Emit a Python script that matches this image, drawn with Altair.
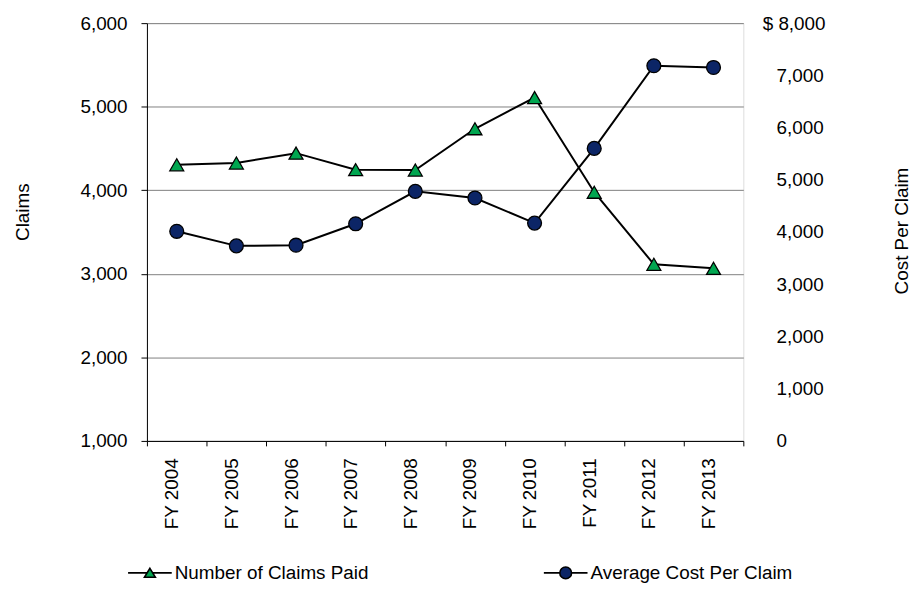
import altair as alt
import pandas as pd

years = ["FY 2004", "FY 2005", "FY 2006", "FY 2007", "FY 2008",
         "FY 2009", "FY 2010", "FY 2011", "FY 2012", "FY 2013"]
claims_paid = [4305, 4326, 4444, 4246, 4242, 4736, 5109, 3976, 3114, 3066]
avg_cost = [4014, 3735, 3748, 4158, 4779, 4652, 4171, 5601, 7184, 7151]
series_names = ["Number of Claims Paid", "Average Cost Per Claim"]
series_fills = ["#00A650", "#0C2566"]
left_ticks = [1000, 2000, 3000, 4000, 5000, 6000]
right_ticks = [0, 1000, 2000, 3000, 4000, 5000, 6000, 7000, 8000]

FONT = "Liberation Sans"
FS = 19

df = pd.DataFrame({"year": years, "claims": claims_paid, "cost": avg_cost})
legend_df = pd.DataFrame({"series": series_names})

x_enc = alt.X(
    "year:N", sort=years, title=None,
    scale=alt.Scale(type="band", paddingInner=0, paddingOuter=0),
    axis=alt.Axis(labelAngle=270, labelAlign="right", labelBaseline="middle",
                  labelOffset=-5, tickBand="extent", tickSize=5, tickColor="black",
                  domainColor="black", labelPadding=12, grid=False,
                  labelFont=FONT, labelFontSize=FS, labelColor="black"),
)

base = alt.Chart(df).encode(x=x_enc)

y_left = alt.Y(
    "claims:Q", title="Claims",
    scale=alt.Scale(domain=[1000, 6000], nice=False, zero=False),
    axis=alt.Axis(values=left_ticks, labelExpr="format(datum.value, ',')",
                  grid=True, gridColor="#808080",
                  gridWidth=1, tickSize=6, tickColor="black", domainColor="black",
                  labelPadding=14, labelFont=FONT, labelFontSize=FS, labelColor="black",
                  titleFont=FONT, titleFontSize=FS, titleFontWeight="normal",
                  titleColor="black", titleAngle=270, titleX=-125, titleY=190,
                  titleAlign="center", titleBaseline="middle"),
)

y_right = alt.Y(
    "cost:Q", title="Cost Per Claim",
    scale=alt.Scale(domain=[0, 8000], nice=False),
    axis=alt.Axis(orient="right", values=right_ticks, grid=False, ticks=False,
                  tickSize=0, domain=False,
                  labelExpr="datum.value == 8000 ? '$ 8,000' : format(datum.value, ',')",
                  labelAlign="left",
                  labelPadding={"condition": {"test": "datum.value == 8000", "value": 19},
                                "value": 33},
                  labelFont=FONT, labelFontSize=FS, labelColor="black",
                  titleFont=FONT, titleFontSize=FS, titleFontWeight="normal",
                  titleColor="black", titleAngle=270, titleX=159, titleY=209,
                  titleAlign="center", titleBaseline="middle"),
)

claims_line = base.mark_line(color="black", strokeWidth=2).encode(y=y_left)
claims_pts = base.mark_point(shape="triangle-up", filled=True, fill=series_fills[0],
                             stroke="black", strokeWidth=1.3, size=196,
                             opacity=1).encode(y=y_left)
left_layer = alt.layer(claims_line, claims_pts)

cost_line = base.mark_line(color="black", strokeWidth=2).encode(y=y_right)
cost_pts = base.mark_point(shape="circle", filled=True, fill=series_fills[1],
                           stroke="black", strokeWidth=1.3, size=196,
                           opacity=1).encode(y=y_right)
right_layer = alt.layer(cost_line, cost_pts)

tri_path = "M-1,0H-0.12M0.12,0H1M0,-0.21L0.25,0.2L-0.25,0.2Z"
circ_path = ("M-1,0H-0.27M0.27,0H1M-0.27,0A0.27,0.27,0,1,1,0.27,0"
             "A0.27,0.27,0,1,1,-0.27,0Z")

leg = alt.Legend(orient="none", legendX=-20, legendY=531, direction="horizontal",
                 columns=2, columnPadding=172, title=None, padding=0,
                 labelFont=FONT, labelFontSize=FS, labelColor="black", labelLimit=0,
                 symbolSize=1936, symbolStrokeColor="black", symbolStrokeWidth=1.6,
                 symbolOpacity=1, labelOffset=2)

legend_layer = alt.Chart(legend_df).mark_point(filled=True, strokeWidth=1.6).encode(
    x=alt.value(-3000), y=alt.value(-3000),
    shape=alt.Shape("series:N", scale=alt.Scale(domain=series_names,
                                                range=[tri_path, circ_path]), legend=leg),
    fill=alt.Fill("series:N", scale=alt.Scale(domain=series_names, range=series_fills),
                  legend=leg),
    stroke=alt.Stroke("series:N", scale=alt.Scale(domain=series_names,
                                                  range=["black", "black"]), legend=leg),
)

chart = alt.layer(left_layer, right_layer, legend_layer).resolve_scale(
    y="independent"
).properties(
    width=601, height=421,
    padding={"left": 140, "top": 13, "right": 172, "bottom": 150},
    autosize=alt.AutoSizeParams(type="none"),
).configure_view(stroke="black", strokeWidth=1).configure(background="white")

chart.save("out.html", embed_options={"renderer": "svg", "actions": False})
